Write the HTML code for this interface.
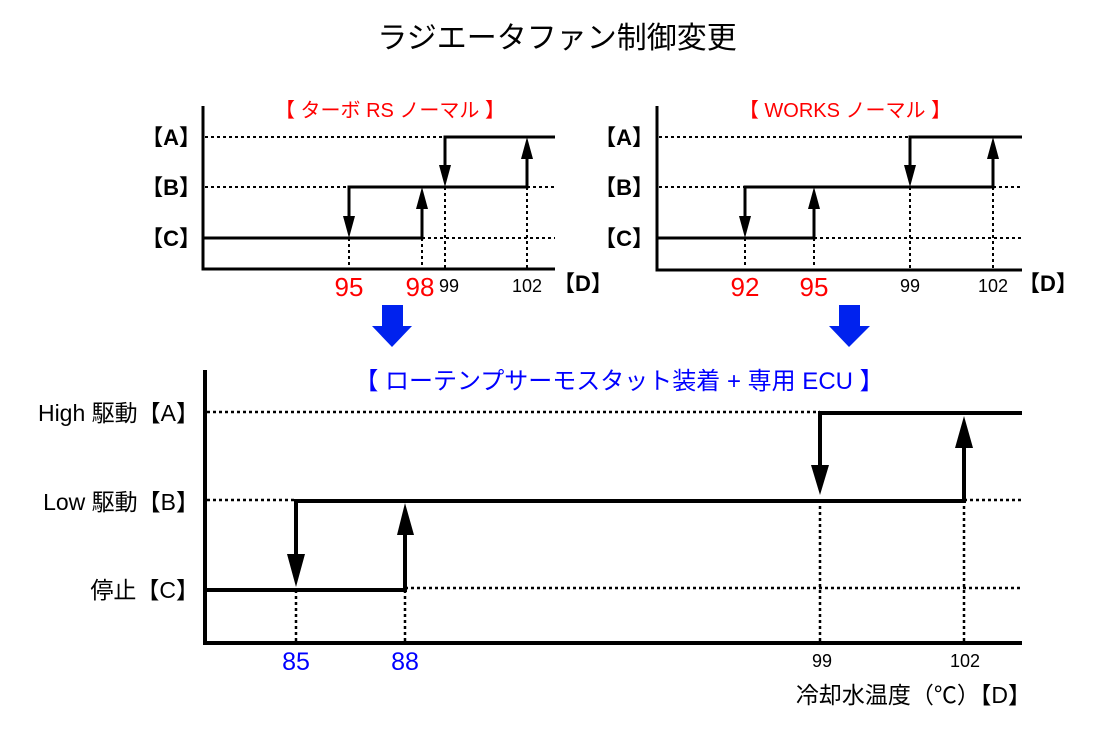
<!DOCTYPE html>
<html><head><meta charset="utf-8"><style>
html,body{margin:0;padding:0;background:#fff;}
svg{display:block;}
text{font-family:"Liberation Sans","Noto Sans CJK JP",sans-serif;}
</style></head><body>
<svg width="1100" height="734" viewBox="0 0 1100 734" xmlns="http://www.w3.org/2000/svg">
<text x="557" y="48" font-size="30" text-anchor="middle" fill="#000">ラジエータファン制御変更</text>

<!-- Left small chart -->
<g stroke="#000" fill="none">
<g stroke-width="2" stroke-dasharray="3,3">
<line x1="205" y1="137" x2="445" y2="137"/>
<line x1="205" y1="187" x2="349" y2="187"/>
<line x1="527" y1="187" x2="555" y2="187"/>
<line x1="422" y1="238" x2="555" y2="238"/>
<line x1="349" y1="238" x2="349" y2="268"/>
<line x1="422" y1="238" x2="422" y2="268"/>
<line x1="445" y1="187" x2="445" y2="268"/>
<line x1="527" y1="187" x2="527" y2="268"/>
</g>
<polyline stroke-width="3" points="203,106 203,269 555,269"/>
<polyline stroke-width="3" points="203,238 422,238 422,200"/>
<polyline stroke-width="3" points="349,225 349,187 527,187 527,150"/>
<polyline stroke-width="3" points="445,175 445,137 555,137"/>
</g>
<g fill="#000">
<polygon points="343,216 355,216 349,238"/>
<polygon points="416,209 428,209 422,187"/>
<polygon points="439,165 451,165 445,187"/>
<polygon points="521,159 533,159 527,137"/>
</g>
<text x="390" y="117" font-size="20" text-anchor="middle" fill="#f00">【 ターボ RS ノーマル 】</text>
<g font-size="22" font-weight="bold" fill="#000" text-anchor="end">
<text x="201" y="145">【A】</text>
<text x="201" y="195">【B】</text>
<text x="201" y="246">【C】</text>
</g>
<text x="349" y="296" font-size="26" text-anchor="middle" fill="#f00">95</text>
<text x="420" y="296" font-size="26" text-anchor="middle" fill="#f00">98</text>
<text x="449" y="292" font-size="18" text-anchor="middle">99</text>
<text x="527" y="292" font-size="18" text-anchor="middle">102</text>
<text x="553" y="291" font-size="22" font-weight="bold">【D】</text>

<!-- Right small chart -->
<g stroke="#000" fill="none">
<g stroke-width="2" stroke-dasharray="3,3">
<line x1="659" y1="137" x2="910" y2="137"/>
<line x1="659" y1="187" x2="745" y2="187"/>
<line x1="993" y1="187" x2="1022" y2="187"/>
<line x1="814" y1="238" x2="1022" y2="238"/>
<line x1="745" y1="238" x2="745" y2="268"/>
<line x1="814" y1="238" x2="814" y2="268"/>
<line x1="910" y1="187" x2="910" y2="268"/>
<line x1="993" y1="187" x2="993" y2="268"/>
</g>
<polyline stroke-width="3" points="657,106 657,270 1022,270"/>
<polyline stroke-width="3" points="657,238 814,238 814,200"/>
<polyline stroke-width="3" points="745,225 745,187 993,187 993,150"/>
<polyline stroke-width="3" points="910,175 910,137 1022,137"/>
</g>
<g fill="#000">
<polygon points="739,216 751,216 745,238"/>
<polygon points="808,209 820,209 814,187"/>
<polygon points="904,165 916,165 910,187"/>
<polygon points="987,159 999,159 993,137"/>
</g>
<text x="845" y="117" font-size="20" text-anchor="middle" fill="#f00">【 WORKS ノーマル 】</text>
<g font-size="22" font-weight="bold" fill="#000" text-anchor="end">
<text x="654" y="145">【A】</text>
<text x="654" y="195">【B】</text>
<text x="654" y="246">【C】</text>
</g>
<text x="745" y="296" font-size="26" text-anchor="middle" fill="#f00">92</text>
<text x="814" y="296" font-size="26" text-anchor="middle" fill="#f00">95</text>
<text x="910" y="292" font-size="18" text-anchor="middle">99</text>
<text x="993" y="292" font-size="18" text-anchor="middle">102</text>
<text x="1018" y="291" font-size="22" font-weight="bold">【D】</text>

<!-- blue arrows -->
<polygon fill="#0022ee" points="382,305 403,305 403,326 412,326 392,347 372,326 382,326"/>
<polygon fill="#0022ee" points="839,305 860,305 860,326 870,326 849,347 829,326 839,326"/>

<!-- Bottom chart -->
<text x="619" y="389" font-size="24" text-anchor="middle" fill="#0000ff">【 ローテンプサーモスタット装着 + 専用 ECU 】</text>
<g stroke="#000" fill="none">
<g stroke-width="2.5" stroke-dasharray="3,3">
<line x1="207" y1="412" x2="820" y2="412"/>
<line x1="207" y1="500" x2="296" y2="500"/>
<line x1="964" y1="500" x2="1022" y2="500"/>
<line x1="405" y1="588" x2="1022" y2="588"/>
<line x1="296" y1="590" x2="296" y2="642"/>
<line x1="405" y1="590" x2="405" y2="642"/>
<line x1="820" y1="500" x2="820" y2="642"/>
<line x1="964" y1="500" x2="964" y2="642"/>
</g>
<polyline stroke-width="4" points="205,370 205,643 1022,643"/>
<polyline stroke-width="4" points="205,590 405,590 405,530"/>
<polyline stroke-width="4" points="296,560 296,501 964,501 964,440"/>
<polyline stroke-width="4" points="820,470 820,413 1022,413"/>
</g>
<g fill="#000">
<polygon points="287,554 305,554 296,587"/>
<polygon points="397,535 414,535 405,503"/>
<polygon points="811,465 829,465 820,495"/>
<polygon points="955,448 973,448 964,416"/>
</g>
<g font-size="23" fill="#000" text-anchor="end">
<text x="199" y="421">High 駆動【A】</text>
<text x="199" y="510">Low 駆動【B】</text>
<text x="199" y="598">停止【C】</text>
</g>
<text x="296" y="670" font-size="25" text-anchor="middle" fill="#0000ff">85</text>
<text x="405" y="670" font-size="25" text-anchor="middle" fill="#0000ff">88</text>
<text x="822" y="667" font-size="18" text-anchor="middle">99</text>
<text x="965" y="667" font-size="18" text-anchor="middle">102</text>
<text x="1031" y="703" font-size="23" text-anchor="end">冷却水温度（℃）【D】</text>
</svg>
</body></html>
